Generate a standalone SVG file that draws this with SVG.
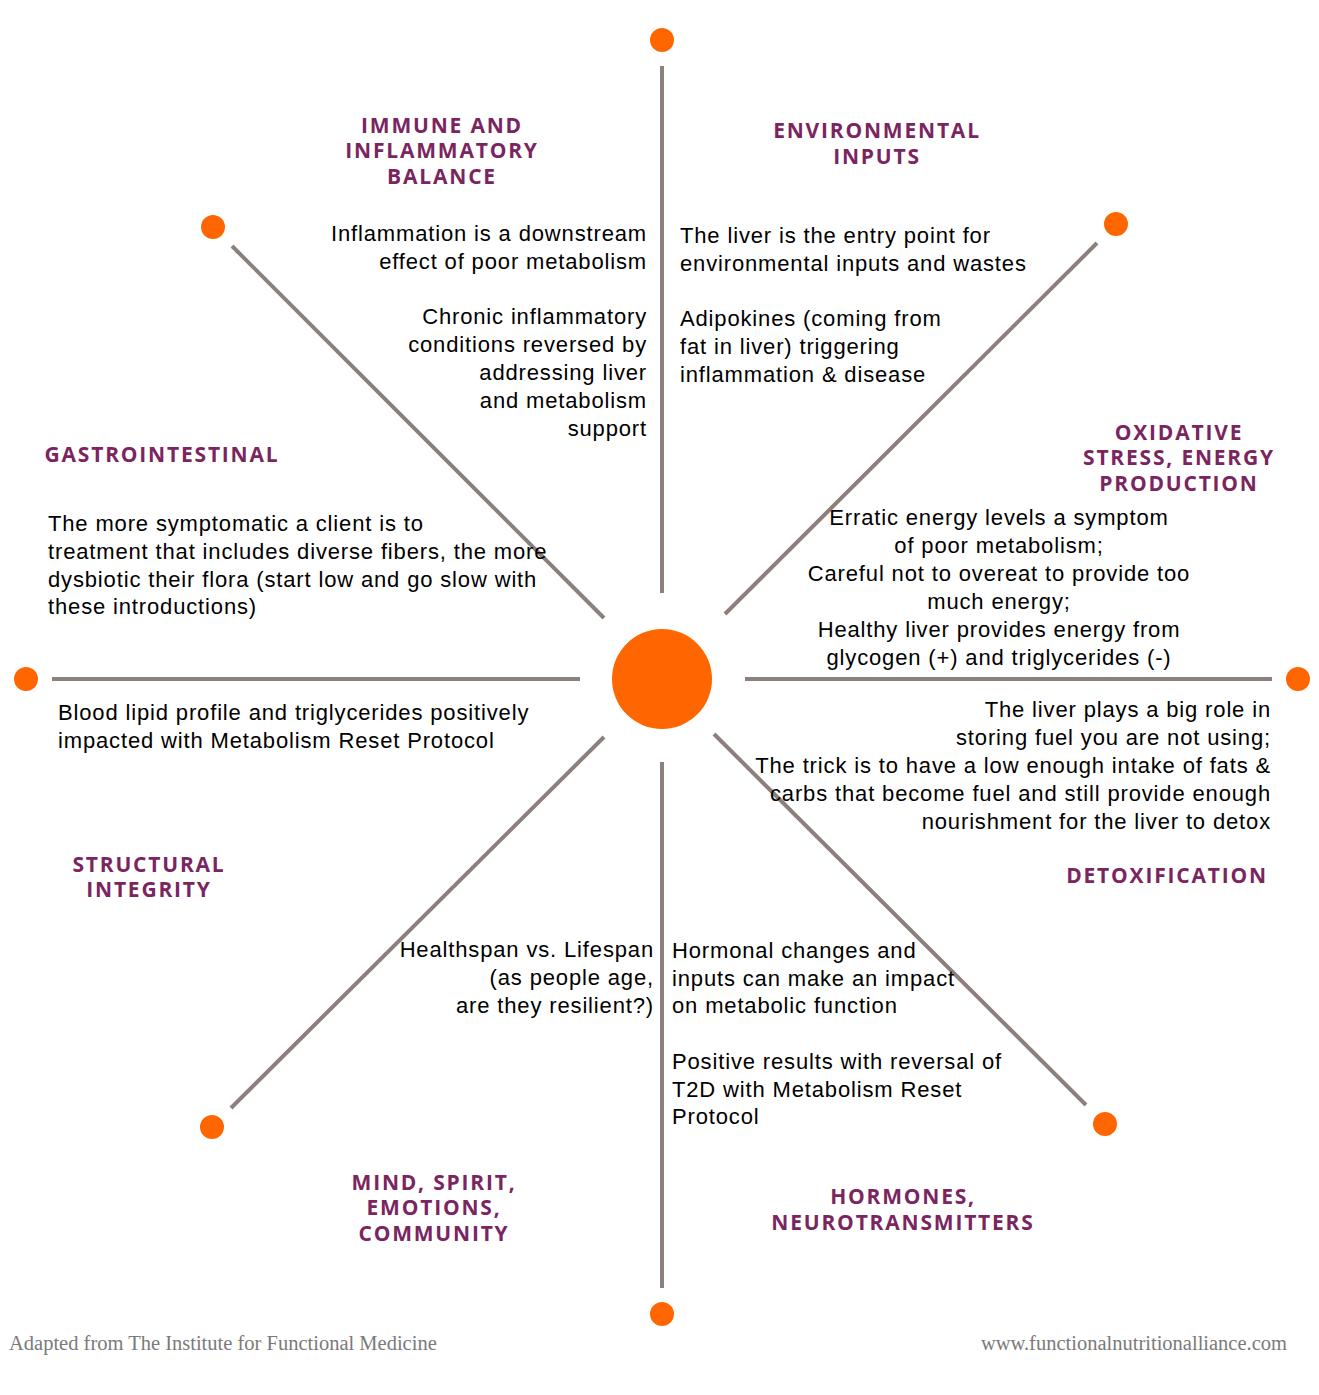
<svg xmlns="http://www.w3.org/2000/svg" width="1319" height="1395" viewBox="0 0 1319 1395">
<style>
.ln{stroke:#8c807c;stroke-width:4;fill:none}
.dot{fill:#ff6600}
.hd{font-family:"Open Sans","Liberation Sans",sans-serif;font-weight:700;font-size:21px;letter-spacing:1.8px;fill:#7a2560}
.tx{font-family:"Liberation Sans",Arial,sans-serif;font-size:22px;letter-spacing:0.85px;fill:#000}
.ft{font-family:"Liberation Serif","Times New Roman",serif;font-size:20.5px;fill:#7a7a7a}
.c{text-anchor:middle}
.r{text-anchor:end}
</style>
<rect width="1319" height="1395" fill="#fff"/>
<g id="connectors">
<line class="ln" x1="662" y1="66" x2="662" y2="593"/>
<line class="ln" x1="662" y1="762" x2="662" y2="1288"/>
<line class="ln" x1="52" y1="679" x2="580" y2="679"/>
<line class="ln" x1="745" y1="679" x2="1272" y2="679"/>
<line class="ln" x1="232" y1="246" x2="604" y2="618"/>
<line class="ln" x1="1097" y1="243" x2="725" y2="614"/>
<line class="ln" x1="604" y1="737" x2="231" y2="1108"/>
<line class="ln" x1="714" y1="734" x2="1086" y2="1105"/>
</g>
<g id="center"><circle class="dot" cx="662" cy="679" r="50"/></g>
<g id="dot-top"><circle class="dot" cx="662" cy="40" r="12"/></g>
<g id="dot-top-right"><circle class="dot" cx="1116" cy="224" r="12"/></g>
<g id="dot-right"><circle class="dot" cx="1298" cy="679" r="12"/></g>
<g id="dot-bottom-right"><circle class="dot" cx="1105" cy="1124" r="12"/></g>
<g id="dot-bottom"><circle class="dot" cx="662" cy="1314" r="12"/></g>
<g id="dot-bottom-left"><circle class="dot" cx="212" cy="1127" r="12"/></g>
<g id="dot-left"><circle class="dot" cx="26" cy="679" r="12"/></g>
<g id="dot-top-left"><circle class="dot" cx="213" cy="227" r="12"/></g>

<g id="immune">
<text class="hd c" x="442" y="133">IMMUNE AND</text>
<text class="hd c" x="442" y="158">INFLAMMATORY</text>
<text class="hd c" x="442" y="184">BALANCE</text>
<text class="tx r" x="647" y="241">Inflammation is a downstream</text>
<text class="tx r" x="647" y="269">effect of poor metabolism</text>
<text class="tx r" x="647" y="324">Chronic inflammatory</text>
<text class="tx r" x="647" y="352">conditions reversed by</text>
<text class="tx r" x="647" y="380">addressing liver</text>
<text class="tx r" x="647" y="408">and metabolism</text>
<text class="tx r" x="647" y="436">support</text>
</g>
<g id="environmental">
<text class="hd c" x="877" y="138">ENVIRONMENTAL</text>
<text class="hd c" x="877" y="164">INPUTS</text>
<text class="tx" x="680" y="243">The liver is the entry point for</text>
<text class="tx" x="680" y="271">environmental inputs and wastes</text>
<text class="tx" x="680" y="326">Adipokines (coming from</text>
<text class="tx" x="680" y="354">fat in liver) triggering</text>
<text class="tx" x="680" y="382">inflammation &amp; disease</text>
</g>
<g id="oxidative">
<text class="hd c" x="1179" y="440">OXIDATIVE</text>
<text class="hd c" x="1179" y="465">STRESS, ENERGY</text>
<text class="hd c" x="1179" y="491">PRODUCTION</text>
<text class="tx c" x="999" y="525">Erratic energy levels a symptom</text>
<text class="tx c" x="999" y="553">of poor metabolism;</text>
<text class="tx c" x="999" y="581">Careful not to overeat to provide too</text>
<text class="tx c" x="999" y="609">much energy;</text>
<text class="tx c" x="999" y="637">Healthy liver provides energy from</text>
<text class="tx c" x="999" y="665">glycogen (+) and triglycerides (-)</text>
</g>
<g id="detoxification">
<text class="tx r" x="1271" y="717">The liver plays a big role in</text>
<text class="tx r" x="1271" y="745">storing fuel you are not using;</text>
<text class="tx r" x="1271" y="773">The trick is to have a low enough intake of fats &amp;</text>
<text class="tx r" x="1271" y="801">carbs that become fuel and still provide enough</text>
<text class="tx r" x="1271" y="829">nourishment for the liver to detox</text>
<text class="hd c" x="1167" y="883">DETOXIFICATION</text>
</g>
<g id="hormones">
<text class="tx" x="672" y="958">Hormonal changes and</text>
<text class="tx" x="672" y="986">inputs can make an impact</text>
<text class="tx" x="672" y="1013">on metabolic function</text>
<text class="tx" x="672" y="1069">Positive results with reversal of</text>
<text class="tx" x="672" y="1097">T2D with Metabolism Reset</text>
<text class="tx" x="672" y="1124">Protocol</text>
<text class="hd c" x="903" y="1204">HORMONES,</text>
<text class="hd c" x="903" y="1230">NEUROTRANSMITTERS</text>
</g>
<g id="mind">
<text class="tx r" x="654" y="957">Healthspan vs. Lifespan</text>
<text class="tx r" x="654" y="985">(as people age,</text>
<text class="tx r" x="654" y="1013">are they resilient?)</text>
<text class="hd c" x="434" y="1190">MIND, SPIRIT,</text>
<text class="hd c" x="434" y="1215">EMOTIONS,</text>
<text class="hd c" x="434" y="1241">COMMUNITY</text>
</g>
<g id="structural">
<text class="hd c" x="149" y="872">STRUCTURAL</text>
<text class="hd c" x="149" y="897">INTEGRITY</text>
<text class="tx" x="58" y="720">Blood lipid profile and triglycerides positively</text>
<text class="tx" x="58" y="748">impacted with Metabolism Reset Protocol</text>
</g>
<g id="gastrointestinal">
<text class="hd c" x="162" y="462">GASTROINTESTINAL</text>
<text class="tx" x="48" y="531">The more symptomatic a client is to</text>
<text class="tx" x="48" y="559">treatment that includes diverse fibers, the more</text>
<text class="tx" x="48" y="587">dysbiotic their flora (start low and go slow with</text>
<text class="tx" x="48" y="614">these introductions)</text>
</g>
<g id="footer">
<text class="ft" x="9" y="1350">Adapted from The Institute for Functional Medicine</text>
<text class="ft r" x="1287" y="1350">www.functionalnutritionalliance.com</text>
</g>
</svg>
